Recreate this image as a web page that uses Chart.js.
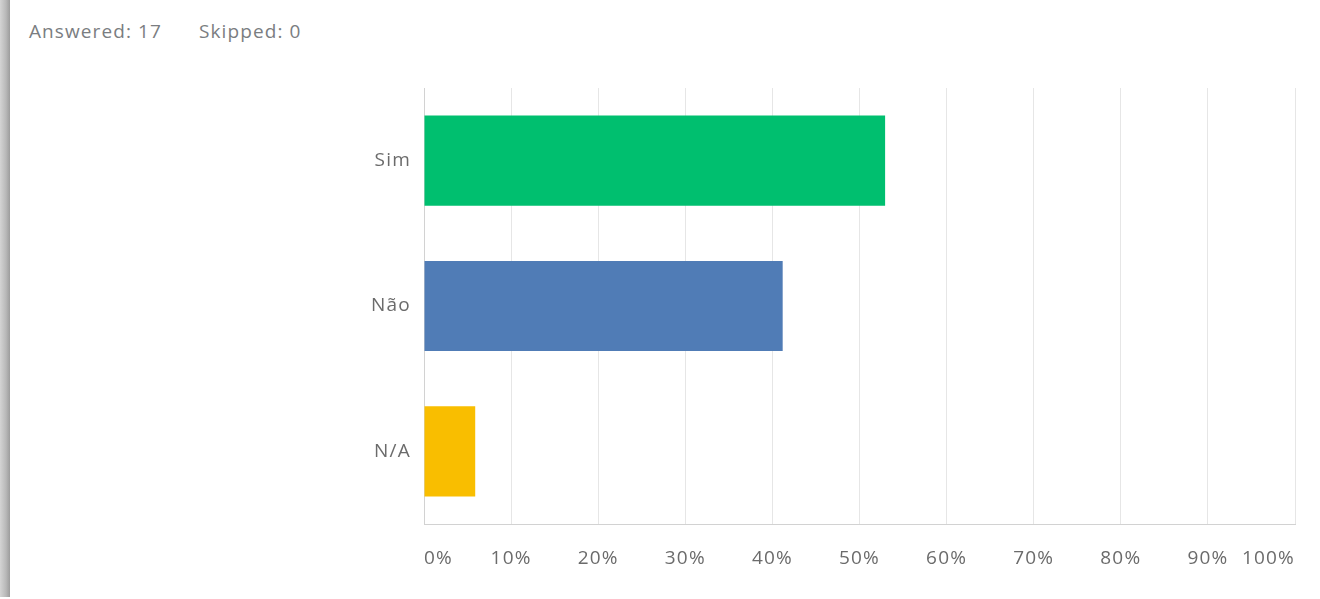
<!DOCTYPE html>
<html>
<head>
<meta charset="utf-8">
<script src="https://cdn.jsdelivr.net/npm/chart.js@4.4.0/dist/chart.umd.min.js"></script>
<style>
  html, body { margin: 0; padding: 0; background: #fff; }
  body { width: 1320px; height: 599px; position: relative; overflow: hidden; font-family: "Open Sans", Roboto, sans-serif; }
  #strip { position: absolute; left: 0; top: 0; width: 10px; height: 597px;
    background: linear-gradient(to right, #d4d4d4, #b8b8b8 60%, #9c9c9c); }
  #hdr { position: absolute; top: 18px; left: 29px; font-size: 19px; letter-spacing: 1.1px; color: #7a7d81; white-space: nowrap; }
  #hdr span { position: absolute; top: 0; }
  #wrap { position: absolute; left: 0; top: 0; width: 1320px; height: 599px; }
</style>
</head>
<body>
<div id="strip"></div>
<div id="hdr"><span style="left:0">Answered: 17</span><span style="left:170px">Skipped: 0</span></div>
<div id="wrap"><canvas id="c"></canvas></div>
<script>
const categories = ["Sim", "Não", "N/A"];
const percentages = [52.94, 41.18, 5.88];
const barColors = ["#00bf6f", "#507cb6", "#f9be00"];
const xTickValues = [0, 10, 20, 30, 40, 50, 60, 70, 80, 90, 100];

const spacingPlugin = {
  id: "spacing",
  beforeDraw(chart) { chart.ctx.letterSpacing = "1.2px"; }
};

new Chart(document.getElementById("c"), {
  type: "bar",
  data: {
    labels: categories,
    datasets: [{
      data: percentages,
      backgroundColor: barColors,
      borderWidth: 0,
      barPercentage: 0.62,
      categoryPercentage: 1
    }]
  },
  plugins: [spacingPlugin],
  options: {
    indexAxis: "y",
    responsive: true,
    maintainAspectRatio: false,
    animation: false,
    layout: { padding: { top: 88, right: 25, bottom: 0, left: 0 } },
    plugins: { legend: { display: false }, tooltip: { enabled: false } },
    scales: {
      x: {
        min: 0, max: 100,
        afterBuildTicks: (s) => { s.ticks = xTickValues.map(v => ({ value: v })); },
        afterFit: (s) => { s.height = 75; },
        grid: { color: "#e6e6e6", lineWidth: 1, drawTicks: false },
        border: { color: "#d2d2d2", width: 1 },
        ticks: {
          align: "inner",
          padding: 23,
          color: "#6b6b6b",
          font: { family: "Open Sans", size: 19 },
          callback: (v) => v + "%"
        }
      },
      y: {
        afterFit: (s) => { s.width = 424; },
        grid: { display: false, drawTicks: false },
        border: { color: "#d2d2d2", width: 1 },
        ticks: {
          padding: 13,
          color: "#6b6b6b",
          font: { family: "Open Sans", size: 19 }
        }
      }
    }
  }
});
</script>
</body>
</html>
